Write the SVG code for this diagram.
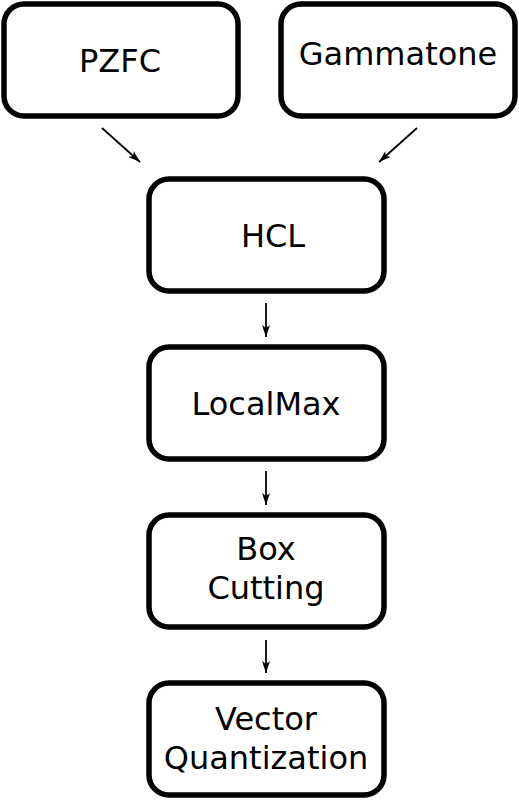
<svg xmlns="http://www.w3.org/2000/svg" width="519" height="800" viewBox="0 0 519 800">
<style>
.box{fill:#fff;stroke:#000;stroke-width:5.5}
.t{font-family:"DejaVu Sans",sans-serif;font-size:32px;fill:#000;text-anchor:middle}
.c{stroke:#000;stroke-width:1.8;fill:none;marker-end:url(#ah)}
</style>
<defs>
<marker id="ah" viewBox="0 0 12 8" refX="12" refY="4" markerWidth="12" markerHeight="8" markerUnits="userSpaceOnUse" orient="auto">
<path d="M0,0 L12,4 L0,8 L3,4 Z" fill="#000"/>
</marker>
</defs>
<g id="connectors">
<line class="c" x1="102" y1="128" x2="140" y2="162"/>
<line class="c" x1="417" y1="128" x2="379" y2="162"/>
<line class="c" x1="266" y1="303" x2="266" y2="337"/>
<line class="c" x1="266" y1="471" x2="266" y2="505"/>
<line class="c" x1="266" y1="640" x2="266" y2="673"/>
</g>
<g id="pzfc"><rect class="box" x="4" y="4" width="234" height="112" rx="20"/><text class="t" x="120" y="72">PZFC</text></g>
<g id="gammatone"><rect class="box" x="281" y="4" width="234" height="112" rx="20"/><text class="t" x="398" y="65">Gammatone</text></g>
<g id="hcl"><rect class="box" x="149" y="179" width="235" height="112" rx="20"/><text class="t" x="273" y="247">HCL</text></g>
<g id="localmax"><rect class="box" x="149" y="347" width="235" height="112" rx="20"/><text class="t" x="266" y="415">LocalMax</text></g>
<g id="boxcutting"><rect class="box" x="149" y="515" width="235" height="112" rx="20"/><text class="t" x="266" y="560">Box</text><text class="t" x="266" y="599">Cutting</text></g>
<g id="vq"><rect class="box" x="149" y="683" width="235" height="112" rx="20"/><text class="t" x="266" y="730">Vector</text><text class="t" x="266" y="769">Quantization</text></g>
</svg>
